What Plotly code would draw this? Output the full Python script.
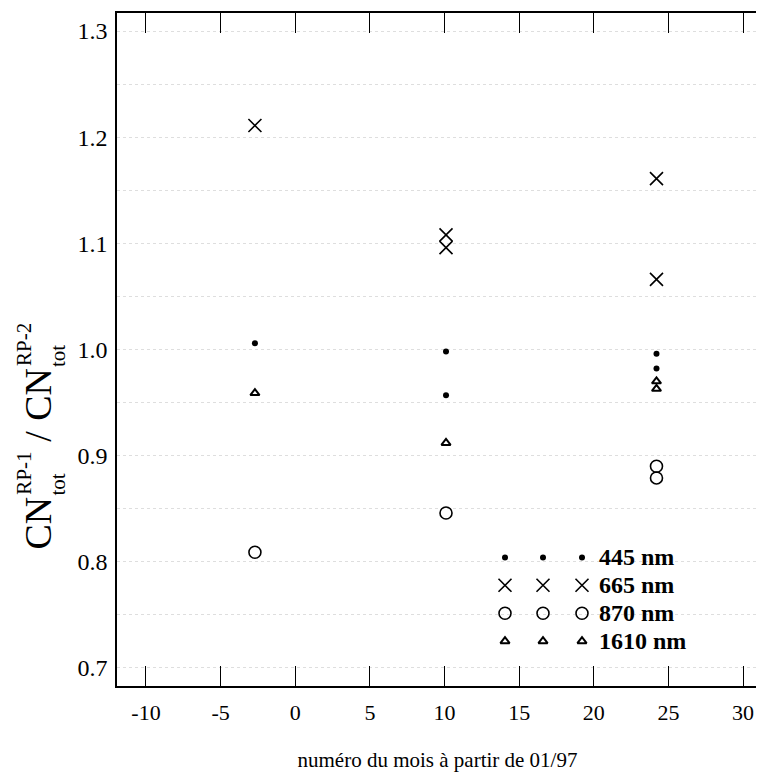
import plotly.graph_objects as go

# ---------------- data ----------------
x_445 = [-2.7, 10.1, 10.1, 24.2, 24.2]
y_445 = [1.006, 0.998, 0.957, 0.996, 0.982]

x_665 = [-2.7, 10.1, 10.1, 24.2, 24.2]
y_665 = [1.211, 1.108, 1.096, 1.161, 1.066]

x_870 = [-2.7, 10.1, 24.2, 24.2]
y_870 = [0.809, 0.846, 0.890, 0.879]

x_1610 = [-2.7, 10.1, 24.2, 24.2]
y_1610 = [0.959, 0.912, 0.970, 0.963]

series_names = ["445 nm", "665 nm", "870 nm", "1610 nm"]
x_tickvals = [-10, -5, 0, 5, 10, 15, 20, 25, 30]
x_ticktext = ["-10", "-5", "0", "5", "10", "15", "20", "25", "30"]
y_tickvals = [0.7, 0.8, 0.9, 1.0, 1.1, 1.2, 1.3]
y_ticktext = ["0.7", "0.8", "0.9", "1.0", "1.1", "1.2", "1.3"]

# ---------------- layout constants ----------------
OFF = 8                      # default page body margin
W, H = 764 - OFF, 784 - OFF
L, R, T, B = 117 - OFF, 6, 11 - OFF, 98
PW, PH = W - L - R, H - T - B
FONT = "Liberation Serif"

def px_x(px):                # page pixel -> paper fraction
    return (px - OFF - L) / PW

def px_y(py):
    return (H - B - (py - OFF)) / PH

styles = [
    dict(symbol="circle", size=6, color="black", line=dict(width=0)),
    dict(symbol="x-thin-open", size=13, color="black", line=dict(width=1.6, color="black")),
    dict(symbol="circle-open", size=12, color="black", line=dict(width=1.6, color="black")),
    dict(symbol="triangle-up-open", size=8, color="black", line=dict(width=2, color="black")),
]

fig = go.Figure()
for (xs, ys), st, nm in zip([(x_445, y_445), (x_665, y_665), (x_870, y_870), (x_1610, y_1610)],
                            styles, series_names):
    fig.add_trace(go.Scatter(x=xs, y=ys, mode="markers", marker=st, name=nm,
                             showlegend=False, cliponaxis=False))

# custom legend: three glyphs per row on a hidden overlay axis
leg_cols_px = [505, 543, 582]
leg_rows_px = [557, 585, 613, 641]
for st, nm, ry in zip(styles, series_names, leg_rows_px):
    fig.add_trace(go.Scatter(x=[px_x(c) for c in leg_cols_px], y=[px_y(ry)] * 3,
                             mode="markers", marker=st, xaxis="x2", yaxis="y2",
                             showlegend=False, hoverinfo="skip"))
    fig.add_annotation(x=px_x(597), y=px_y(ry), xref="paper", yref="paper",
                       text="<b>%s</b>" % nm, showarrow=False, xanchor="left",
                       yanchor="middle", font=dict(family=FONT, size=24, color="black"))

# y-axis title built from stacked pieces (rotated)
title_parts = [
    ("CN", 38, 38, 523),
    ("RP-1", 21, 24, 473),
    ("tot", 21, 58, 484),
    ("/", 38, 38, 436),
    ("CN", 38, 38, 394),
    ("RP-2", 21, 24, 344),
    ("tot", 21, 58, 355),
]
for txt, fs, cx, cy in title_parts:
    fig.add_annotation(x=px_x(cx), y=px_y(cy), xref="paper", yref="paper", text=txt,
                       textangle=-90, showarrow=False, xanchor="center", yanchor="middle",
                       font=dict(family=FONT, size=fs, color="black"))

fig.update_layout(
    width=W, height=H,
    margin=dict(l=L, r=R, t=T, b=B),
    paper_bgcolor="white", plot_bgcolor="white",
    font=dict(family=FONT, color="black"),
    xaxis=dict(range=[-11.94, 31.0], tickmode="array", tickvals=x_tickvals, ticktext=x_ticktext,
               ticks="inside", ticklen=20, tickwidth=1.2, tickcolor="black",
               showline=True, linecolor="black", linewidth=1.5, mirror="ticks",
               showgrid=False, zeroline=False, tickfont=dict(family=FONT, size=22),
               ticklabelstandoff=6,
               title=dict(text="numéro du mois à partir de 01/97",
                          font=dict(family=FONT, size=21), standoff=28)),
    yaxis=dict(range=[0.683, 1.317], tickmode="array", tickvals=y_tickvals, ticktext=y_ticktext,
               ticks="", showline=True, linecolor="black", linewidth=1.5, mirror=False,
               showgrid=True, gridcolor="#dedede", griddash="dot", gridwidth=1,
               minor=dict(dtick=0.05, tick0=0.7, showgrid=True, gridcolor="#dedede",
                          griddash="dot", gridwidth=1),
               zeroline=False, tickfont=dict(family=FONT, size=24), ticklabelstandoff=3),
    xaxis2=dict(overlaying="x", range=[0, 1], visible=False),
    yaxis2=dict(overlaying="y", range=[0, 1], visible=False),
)

fig.write_html("out.html")
